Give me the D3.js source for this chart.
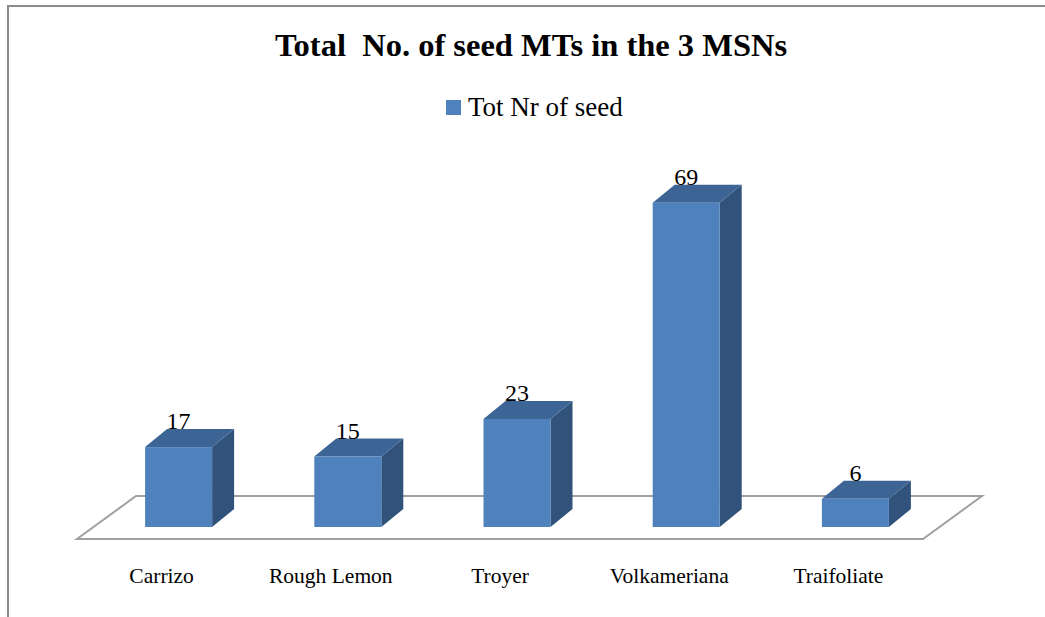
<!DOCTYPE html>
<html>
<head>
<meta charset="utf-8">
<script src="https://cdn.jsdelivr.net/npm/d3@7"></script>
<style>
  body { margin: 0; background: #fff; }
  text { font-family: "Liberation Serif", "DejaVu Serif", serif; fill: #000; }
</style>
</head>
<body>
<div class="canvas1"></div>
<script>
// data
const categories = ["Carrizo", "Rough Lemon", "Troyer", "Volkameriana", "Traifoliate"];
const seedValues = [17, 15, 23, 69, 6];
const seriesName = "Tot Nr of seed";
const chartTitle = "Total  No. of seed MTs in the 3 MSNs";

const W = 1045, H = 617;

// floor (front edge and its depth offset)
const floor = { left: 77, right: 923, front: 539, dx: 59, dy: -43 };
// bar front face sits a bit into the floor, bar has its own depth
const barShift = { dx: 17, dy: -12 };
const barDepth = { dx: 22, dy: -18 };

const colFront = "#4f81bd", colTop = "#3c6595", colSide = "#31527b";

const svg = d3.select(".canvas1").append("svg")
    .attr("width", W)
    .attr("height", H);

// chart border (only top and left visible)
svg.append("rect")
    .attr("x", 8).attr("y", 6)
    .attr("width", W + 20).attr("height", H + 20)
    .attr("fill", "none")
    .attr("stroke", "#8c8c8c")
    .attr("stroke-width", 2);

// scales
const x = d3.scaleBand().domain(categories).range([floor.left, floor.right]);
const base = floor.front + barShift.dy;
const y = d3.scaleLinear().domain([0, 80]).range([base, base - 376]);
const barW = x.step() * 0.396;

// floor
const fl = [
  [floor.left, floor.front],
  [floor.right, floor.front],
  [floor.right + floor.dx, floor.front + floor.dy],
  [floor.left + floor.dx, floor.front + floor.dy]
];
svg.append("path")
    .attr("d", "M" + fl.join("L") + "Z")
    .attr("fill", "none")
    .attr("stroke", "#a0a0a0")
    .attr("stroke-width", 2);

// bars
const data = categories.map((c, i) => ({ cat: c, value: seedValues[i] }));

const bars = svg.selectAll("g.bar")
  .data(data)
  .enter().append("g")
    .attr("class", "bar");

const fx0 = d => x(d.cat) + x.bandwidth() / 2 - barW / 2 + barShift.dx;

// side face
bars.append("path")
    .attr("fill", colSide)
    .attr("d", d => {
      const x1 = fx0(d) + barW, t = y(d.value);
      return "M" + [[x1, t], [x1 + barDepth.dx, t + barDepth.dy],
        [x1 + barDepth.dx, base + barDepth.dy], [x1, base]].join("L") + "Z";
    });

// top face
bars.append("path")
    .attr("fill", colTop)
    .attr("d", d => {
      const x0 = fx0(d), t = y(d.value);
      return "M" + [[x0, t], [x0 + barW, t], [x0 + barW + barDepth.dx, t + barDepth.dy],
        [x0 + barDepth.dx, t + barDepth.dy]].join("L") + "Z";
    });

// front face
bars.append("rect")
    .attr("fill", colFront)
    .attr("x", fx0)
    .attr("y", d => y(d.value))
    .attr("width", barW)
    .attr("height", d => base - y(d.value));

// value labels
bars.append("text")
    .attr("x", d => fx0(d) + barW / 2)
    .attr("y", d => y(d.value) + barDepth.dy)
    .attr("text-anchor", "middle")
    .style("font-size", "24px")
    .text(d => d.value);

// category labels
svg.selectAll("text.cat")
  .data(categories)
  .enter().append("text")
    .attr("class", "cat")
    .attr("x", d => x(d) + x.bandwidth() / 2)
    .attr("y", 583)
    .attr("text-anchor", "middle")
    .style("font-size", "21.5px")
    .text(d => d);

// title
svg.append("text")
    .attr("x", 531)
    .attr("y", 56)
    .attr("text-anchor", "middle")
    .style("font-size", "32.5px")
    .style("font-weight", "bold")
    .style("white-space", "pre")
    .text(chartTitle);

// legend
svg.append("rect")
    .attr("x", 446).attr("y", 100)
    .attr("width", 15).attr("height", 15)
    .attr("fill", colFront);
svg.append("text")
    .attr("x", 468)
    .attr("y", 116)
    .style("font-size", "27px")
    .text(seriesName);
</script>
</body>
</html>
